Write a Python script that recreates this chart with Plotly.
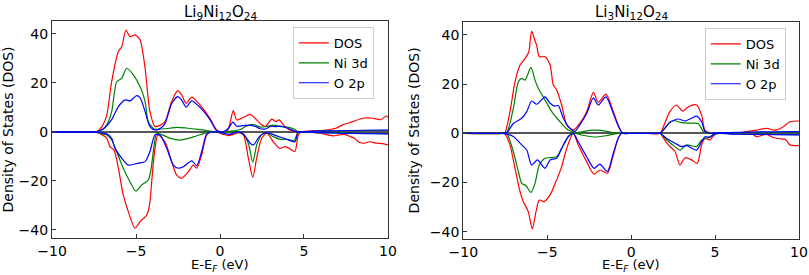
import plotly.graph_objects as go

# ---------------- Data ----------------
titles = ["Li<sub>9</sub>Ni<sub>12</sub>O<sub>24</sub>", "Li<sub>3</sub>Ni<sub>12</sub>O<sub>24</sub>"]
series_names = ["DOS", "Ni 3d", "O 2p"]
xticks = [-10, -5, 0, 5, 10]
yticks = [-40, -20, 0, 20, 40]

# ---- Li9Ni12O24 ----
L_DOS_up_x = [-10, -7.5, -7.3, -7.0, -6.74, -6.45, -6.05, -5.85, -5.6, -5.36, -5.06, -4.76, -4.46, -4.17, -3.87, -3.55, -3.27, -2.88, -2.52, -2.28, -2.02, -1.68, -1.19, -0.6, -0.2, 0.1, 0.45, 0.79, 0.99, 1.4, 1.79, 2.1, 2.38, 2.68, 3.08, 3.32, 3.51, 3.87, 4.27, 4.6, 5.0, 5.6, 6.3, 6.9, 7.3, 7.9, 8.5, 9.1, 9.55, 9.9, 10]
L_DOS_up_y = [0, 0, 0.3, 2.5, 6.9, 20.5, 32.8, 34.8, 41.6, 38.9, 39.6, 37.6, 26, 8.3, 2.2, 2.8, 4.2, 12.4, 16.9, 15.1, 11.7, 14.2, 11, 5.6, 0.8, 0, 0.5, 8.7, 4.9, 6, 7.2, 5.5, 3.5, 2.2, 5.2, 4.2, 4.9, 2.2, 0.5, 0.1, 0.2, 0.4, 0.8, 1.5, 2.9, 4.2, 5.6, 5.6, 5, 6.5, 6]
L_Ni_up_x = [-10, -7.5, -7.3, -7.0, -6.74, -6.45, -6.15, -5.85, -5.55, -5.16, -4.76, -4.46, -4.27, -3.9, -3.5, -3.0, -2.58, -2.0, -1.5, -0.8, -0.3, 0.3, 0.8, 1.2, 1.6, 2.0, 2.4, 2.8, 3.2, 3.6, 4.0, 4.4, 4.7, 5.5, 6.5, 7.5, 8.5, 10]
L_Ni_up_y = [0, 0, 0.2, 1, 2.9, 8.3, 20.5, 21.9, 26, 23.3, 18.5, 12.4, 4.2, 1.2, 1.2, 1.5, 1.9, 1.6, 1.2, 0.6, 0, 0, 0.5, 1.0, 2.5, 3.0, 2.0, 2.3, 2.8, 2.2, 2.0, 1.2, 0, 0.2, 0.4, 0.5, 0.6, 0.7]
L_O_up_x = [-10, -7.5, -7.3, -7.0, -6.74, -6.45, -6.05, -5.65, -5.36, -4.96, -4.76, -4.46, -4.17, -3.87, -3.55, -3.27, -2.88, -2.52, -2.28, -2.02, -1.68, -1.19, -0.6, -0.2, 0.2, 0.5, 0.77, 1.0, 1.4, 1.8, 2.1, 2.4, 2.7, 3.0, 3.3, 3.6, 3.9, 4.3, 4.6, 5.5, 7, 8.5, 10]
L_O_up_y = [0, 0, 0.2, 1, 2.5, 5, 10.3, 13.1, 12.7, 14.8, 14, 8.3, 2.2, 0.8, 1.5, 3.5, 11.5, 14.4, 13, 10.1, 12.7, 10, 5, 0.5, 0, 1.5, 4, 2.3, 2.6, 2.8, 2.2, 1.3, 1.2, 2.3, 2.2, 2.4, 1.8, 0.8, 0, 0.3, 0.5, 0.7, 0.8]
L_DOS_dn_x = [-10, -7.5, -7.3, -7.0, -6.74, -6.55, -6.3, -6.05, -5.76, -5.46, -5.06, -4.76, -4.36, -4.2, -4.0, -3.87, -3.7, -3.27, -2.88, -2.58, -2.28, -1.88, -1.59, -1.39, -1.09, -0.79, -0.5, -0.2, 0.2, 0.5, 0.8, 1.1, 1.39, 1.69, 1.95, 2.18, 2.48, 2.78, 3.17, 3.57, 3.87, 4.17, 4.46, 4.66, 4.86, 5.3, 5.95, 6.4, 6.75, 7.1, 7.4, 7.73, 8.0, 8.3, 8.6, 8.9, 9.33, 9.7, 10]
L_DOS_dn_y = [0, 0, -0.3, -1.2, -2.6, -6, -7.5, -14.8, -25.7, -32.5, -39.3, -36.6, -33.9, -30, -15, -6.8, -1.2, -4, -12.1, -17.6, -18.9, -16.2, -13.5, -14.8, -9.4, -1.2, 0, 0, -1.0, -1.5, -1.0, -0.3, -1.2, -10.7, -18.6, -10.7, -2.6, -0.5, -4, -6.7, -6, -6.9, -8, -1.2, 0, 0, -0.5, -1.2, -1.6, -1.2, -1.0, -1.8, -2.6, -4.3, -4.6, -4, -4.6, -4.8, -5.3]
L_Ni_dn_x = [-10, -7.5, -7.3, -7.0, -6.74, -6.45, -6.15, -5.76, -5.36, -5.02, -4.66, -4.27, -4.1, -3.97, -3.77, -3.5, -3.0, -2.38, -1.58, -0.8, -0.4, 0.3, 1.0, 1.4, 1.7, 1.95, 2.2, 2.5, 2.8, 3.2, 3.6, 4.0, 4.4, 4.66, 5.0, 6, 7, 8, 9, 10]
L_Ni_dn_y = [0, 0, -0.2, -0.8, -1.2, -3.3, -8, -14.8, -20.3, -24.1, -21.6, -19.6, -15, -8, -0.5, -1, -2.5, -3.3, -2, -0.3, 0, 0, 0, -1, -5, -12.3, -5, -1, -0.5, -2, -3, -3, -3.5, 0, 0, -0.3, -0.4, -0.5, -0.6, -0.7]
L_O_dn_x = [-10, -7.5, -7.3, -7.0, -6.74, -6.45, -6.25, -5.85, -5.46, -4.86, -4.46, -4.17, -3.87, -3.57, -3.17, -2.78, -2.48, -2.18, -1.68, -1.39, -1.09, -0.79, -0.5, -0.2, 0.2, 0.5, 0.8, 1.1, 1.39, 1.79, 1.99, 2.38, 2.78, 3.37, 3.97, 4.46, 4.66, 5, 6, 7, 8, 9, 10]
L_O_dn_y = [0, 0, -0.2, -0.5, -0.8, -2.6, -6.7, -10.7, -13.5, -12.7, -12.1, -8, -1.2, -1.2, -6.7, -13.5, -14.8, -14.2, -11.8, -13.8, -8, -0.8, 0, 0, -0.5, -1, -0.5, 0, -0.8, -4.6, -5.3, -1.6, -0.3, -1.6, -3, -4, 0, 0, -0.3, -0.5, -0.6, -0.7, -0.8]

# ---- Li3Ni12O24 ----
R_DOS_up_x = [-10, -7.7, -7.52, -7.22, -6.92, -6.62, -6.32, -6.1, -5.93, -5.75, -5.63, -5.47, -5.13, -4.83, -4.64, -4.44, -4.14, -3.84, -3.45, -3.05, -2.65, -2.25, -1.96, -1.5, -1.06, -0.77, -0.5, 0, 1.0, 1.72, 2.0, 2.31, 2.71, 3.07, 3.41, 3.9, 4.2, 4.4, 4.8, 5.5, 6.3, 6.88, 7.48, 8.07, 8.57, 9.07, 9.46, 10]
R_DOS_up_y = [0, 0, 0.3, 8.8, 20.9, 27.7, 30.4, 33, 41.5, 38, 35.8, 31.1, 31.1, 27.7, 19.6, 17.6, 11.5, 3.4, 1.3, 4.1, 8.8, 16.6, 12.6, 15.9, 8.8, 3.4, 0, 0, 0, 0, 4, 8.8, 11.5, 9, 10.8, 11.5, 7.4, 1.3, 0, 0, 0.2, 0.7, 1.3, 2, 1.3, 2.7, 4.7, 5]
R_Ni_up_x = [-10, -7.7, -7.4, -7.02, -6.72, -6.52, -6.32, -5.97, -5.73, -5.53, -5.13, -4.73, -4.24, -3.74, -3.25, -2.8, -2.25, -1.8, -1.3, -0.8, 0, 1.5, 1.72, 2.0, 2.31, 2.61, 3.0, 3.5, 4.0, 4.3, 4.6, 5.5, 7, 8.5, 10]
R_Ni_up_y = [0, 0, 0.5, 10.1, 20.9, 22.3, 21.6, 26.8, 21.6, 18.3, 13.5, 8.8, 4.7, 1.3, 0.3, 0.8, 1.3, 1.2, 0.6, 0, 0, 0, 0, 2, 4.5, 5.1, 4.3, 4.1, 3.9, 0.8, 0, 0.2, 0.3, 0.4, 0.5]
R_O_up_x = [-10, -7.7, -7.4, -7.02, -6.52, -6.22, -5.93, -5.63, -5.13, -4.83, -4.54, -4.34, -4.04, -3.64, -3.35, -3.05, -2.65, -2.25, -1.96, -1.5, -1.06, -0.77, -0.5, 0, 1.5, 1.72, 2.0, 2.31, 2.81, 3.2, 3.6, 3.9, 4.2, 4.4, 4.7, 5.5, 7, 8.5, 10]
R_O_up_y = [0, 0, 0.3, 4, 6.1, 8.8, 13.1, 11.8, 14.8, 12.2, 11, 11.3, 6.1, 2, 0.8, 3.5, 8, 14.4, 11.5, 14.8, 8, 3, 0, 0, 0, 0, 2, 4.5, 5.8, 5, 6.1, 7, 4.7, 0.8, 0, 0.3, 0.5, 0.6, 0.7]
R_DOS_dn_x = [-10, -7.7, -7.52, -7.22, -6.92, -6.62, -6.43, -6.13, -5.89, -5.67, -5.47, -5.19, -4.83, -4.44, -4.14, -3.84, -3.45, -3.15, -2.65, -2.21, -1.86, -1.42, -1.06, -0.77, -0.57, 0, 1.5, 1.72, 2.12, 2.61, 2.91, 3.21, 3.6, 3.94, 4.2, 4.4, 4.7, 4.9, 5.1, 6.0, 6.8, 7.2, 7.48, 7.8, 8.07, 8.4, 8.8, 9.2, 9.46, 10]
R_DOS_dn_y = [0, 0, -0.3, -4.7, -14.2, -23.7, -27.7, -31.8, -38.8, -31.8, -27.1, -27.7, -25, -18.9, -13.5, -6.1, 0, -4.7, -11.5, -16.6, -14.9, -16.2, -8.8, -2, 0, 0, 0, 0, -4, -7.4, -12.9, -9.9, -10.8, -12.2, -4.7, -2, -2.7, -1, 0, 0, -0.3, -0.2, -1.4, -0.8, -0.3, -1.5, -2.2, -2.5, -4.7, -5]
R_Ni_dn_x = [-10, -7.7, -7.4, -7.02, -6.72, -6.52, -6.27, -5.97, -5.73, -5.47, -5.13, -4.83, -4.44, -4.14, -3.74, -3.45, -2.9, -2.25, -1.5, -0.8, 0, 1.5, 1.72, 2.12, 2.61, 2.91, 3.31, 3.9, 4.2, 4.5, 4.9, 5.2, 6, 7, 8.5, 10]
R_Ni_dn_y = [0, 0, -0.3, -7.4, -15.5, -20.3, -21.2, -24, -20.3, -12.9, -10.1, -9.9, -9.5, -6.1, -1.3, 0, -0.8, -1.5, -1, 0, 0, 0, 0, -2.7, -5.4, -6.8, -4.7, -5.4, -2.7, -2, -0.7, 0, -0.2, -0.3, -0.4, -0.5]
R_O_dn_x = [-10, -7.7, -7.4, -7.02, -6.62, -6.22, -5.93, -5.59, -5.13, -4.83, -4.44, -4.14, -3.74, -3.45, -3.15, -2.65, -2.21, -1.86, -1.42, -1.06, -0.77, -0.57, 0, 1.5, 1.72, 2.12, 2.61, 3.0, 3.31, 3.9, 4.2, 4.4, 4.7, 5.0, 6, 7, 8.5, 10]
R_O_dn_y = [0, 0, -0.3, -1.3, -4, -6.8, -12.9, -10.8, -14.2, -10.8, -10.1, -6.1, -1.3, 0, -3.5, -9.5, -14.2, -12.5, -15.5, -8, -2, 0, 0, 0, 0, -2.1, -4, -5.4, -5, -6.8, -3.4, -1.4, -1.6, 0, -0.3, -0.4, -0.5, -0.6]

# ---------------- Figure ----------------
colors = ["#ff0000", "#008000", "#0000ff"]
FONT = "DejaVu Sans, Liberation Sans, sans-serif"

panels = [
    [(L_DOS_up_x, L_DOS_up_y, L_DOS_dn_x, L_DOS_dn_y),
     (L_Ni_up_x, L_Ni_up_y, L_Ni_dn_x, L_Ni_dn_y),
     (L_O_up_x, L_O_up_y, L_O_dn_x, L_O_dn_y)],
    [(R_DOS_up_x, R_DOS_up_y, R_DOS_dn_x, R_DOS_dn_y),
     (R_Ni_up_x, R_Ni_up_y, R_Ni_dn_x, R_Ni_dn_y),
     (R_O_up_x, R_O_up_y, R_O_dn_x, R_O_dn_y)],
]

fig = go.Figure()
for p, panel in enumerate(panels):
    xa = "x" if p == 0 else "x2"
    ya = "y" if p == 0 else "y2"
    lg = "legend" if p == 0 else "legend2"
    for s, (ux, uy, dx, dy) in enumerate(panel):
        line = dict(color=colors[s], width=1.2, shape="spline", smoothing=0.7)
        fig.add_trace(go.Scatter(x=ux, y=uy, mode="lines", line=line, name=series_names[s],
                                 xaxis=xa, yaxis=ya, legend=lg, showlegend=True))
        fig.add_trace(go.Scatter(x=dx, y=dy, mode="lines", line=line, name=series_names[s],
                                 xaxis=xa, yaxis=ya, legend=lg, showlegend=False))

axis_common = dict(
    showline=True, linecolor="#333", linewidth=1.2, mirror=True,
    ticks="inside", ticklen=4, tickwidth=1, tickcolor="#333",
    showgrid=False, tickfont=dict(family=FONT, size=14, color="black"),
    automargin=False,
)
xdomains = [[0.0643, 0.4796], [0.5727, 0.9876]]
ydomains = [[0.1335, 0.9247], [0.1309, 0.9211]]
yranges = [[-43.4, 45.4], [-42.9, 45.3]]

for p in range(2):
    sx = "" if p == 0 else "2"
    fig.layout["xaxis" + sx] = dict(
        axis_common, domain=xdomains[p], range=[-10, 10], tickvals=xticks,
        anchor="y" + sx, zeroline=False,
    )
    fig.layout["yaxis" + sx] = dict(
        axis_common, domain=ydomains[p], range=yranges[p], tickvals=yticks,
        anchor="x" + sx, zeroline=True, zerolinecolor="#555", zerolinewidth=1.5,
        title=dict(text="Density of States (DOS)", font=dict(family=FONT, size=14, color="black"), standoff=6),
    )
    fig.add_annotation(text=titles[p], xref="x%s domain" % sx, yref="paper",
                       x=0.5, y=1 - 12 / 275, xanchor="center", yanchor="middle",
                       showarrow=False, font=dict(family=FONT, size=15, color="black"))
    fig.add_annotation(text="E-E<sub><i>F</i></sub> (eV)", xref="x%s domain" % sx, yref="paper",
                       x=0.5, y=0, xanchor="center", yanchor="bottom", borderpad=0,
                       showarrow=False, font=dict(family=FONT, size=13, color="black"))

legend_common = dict(bgcolor="white", bordercolor="#cccccc", borderwidth=1,
                     font=dict(family=FONT, size=13, color="black"),
                     xanchor="left", yanchor="top", tracegroupgap=0)
fig.update_layout(
    width=809, height=275,
    margin=dict(l=0, r=0, t=0, b=0),
    paper_bgcolor="white", plot_bgcolor="white",
    legend=dict(legend_common, x=0.362, y=1 - 27 / 275),
    legend2=dict(legend_common, x=0.871, y=1 - 28 / 275),
)

fig.write_html("out.html", config={"displayModeBar": False},
               post_script="document.body.style.margin='0px';")
